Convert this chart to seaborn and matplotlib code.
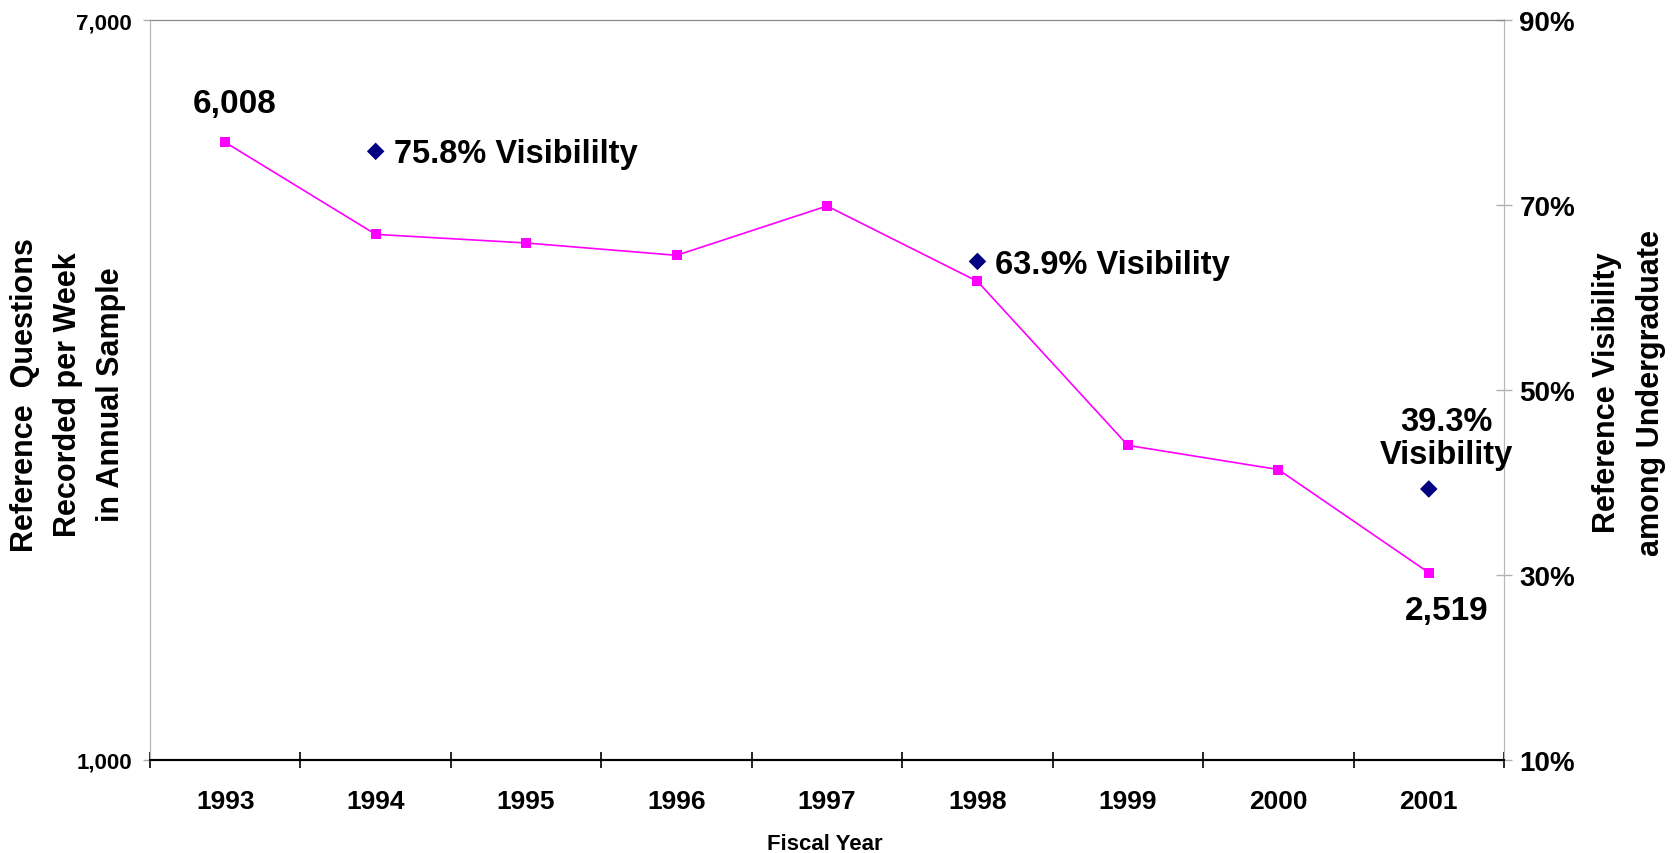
import numpy as np
import pandas as pd
import matplotlib
matplotlib.use('Agg')
import matplotlib.pyplot as plt
import seaborn as sns

# data
years = ['1993', '1994', '1995', '1996', '1997', '1998', '1999', '2000', '2001']
questions = [6008, 5262, 5192, 5092, 5492, 4881, 3551, 3355, 2519]

vis_years = ['1994', '1998', '2001']
visibility = [0.758, 0.639, 0.393]
vis_text = ['75.8% Visibililty', '63.9% Visibility', '39.3%\nVisibility']

left_ticks = [1000, 7000]
right_ticks = [0.10, 0.30, 0.50, 0.70, 0.90]

sns.set_style('white')
plt.rcParams['font.family'] = ['Liberation Sans', 'DejaVu Sans']
plt.rcParams['font.weight'] = 'bold'
plt.rcParams['text.color'] = 'black'

df = pd.DataFrame({'pos': np.arange(len(years)), 'questions': questions})
vis_df = pd.DataFrame({
    'pos': [years.index(y) for y in vis_years],
    'visibility': visibility,
})

fig = plt.figure(figsize=(16.74, 8.54), dpi=100)
ax = fig.add_axes([150 / 1674, 1 - 761 / 854, 1354 / 1674, 740 / 854])
ax2 = ax.twinx()

sns.lineplot(
    data=df, x='pos', y='questions', ax=ax,
    color='#FF00FF', linewidth=1.2,
    marker='s', markersize=7, markeredgecolor='#FF00FF', markeredgewidth=0
)
sns.scatterplot(
    data=vis_df, x='pos', y='visibility', ax=ax2,
    marker='D', s=80, color='#000080', edgecolor='none', zorder=5
)

# left axis
ax.set_xlim(-0.5, len(years) - 0.5)
ax.set_ylim(1000, 7000)
ax.set_yticks(left_ticks)
ax.set_yticklabels([f'{v:,}' for v in left_ticks])
ax.tick_params(axis='y', length=5, width=1, color='#b0b0b0', pad=8,
               labelsize=16, labelcolor='black', left=True)

# category boundaries as ticks, year names between them
ax.set_xticks(np.arange(len(years) + 1) - 0.5)
ax.set_xticklabels([])
ax.set_xticks(np.arange(len(years)), minor=True)
ax.set_xticklabels(years, minor=True)
ax.tick_params(axis='x', which='major', direction='inout', length=12,
               width=1.2, color='black', bottom=True)
ax.tick_params(axis='x', which='minor', length=0, pad=21, labelsize=19,
               labelcolor='black')
ax.set_xlabel('')
ax.set_ylabel('')

# right axis
ax2.set_ylim(0.10, 0.90)
ax2.set_yticks(right_ticks)
ax2.set_yticklabels([f'{v:.0%}' for v in right_ticks])
ax2.tick_params(axis='y', direction='inout', length=12, width=1,
                color='#b0b0b0', pad=5, labelsize=20, labelcolor='black',
                right=True)
ax2.set_ylabel('')

for a in (ax, ax2):
    a.spines['top'].set_color('#888888')
    a.spines['left'].set_color('#b8b8b8')
    a.spines['right'].set_color('#b8b8b8')
    a.spines['bottom'].set_color('black')
    a.spines['bottom'].set_linewidth(1.5)
    a.grid(False)

# value labels
ax.annotate(f'{questions[0]:,}', xy=(df.pos.iloc[0], questions[0]),
            xytext=(7, 28), textcoords='offset points',
            ha='center', va='center', fontsize=24, fontweight='bold')
ax.annotate(f'{questions[-1]:,}', xy=(df.pos.iloc[-1], questions[-1]),
            xytext=(13, -27), textcoords='offset points',
            ha='center', va='center', fontsize=24, fontweight='bold')

for p, v, t in zip(vis_df.pos, visibility, vis_text):
    if '\n' in t:
        ax2.annotate(t, xy=(p, v), xytext=(13, 14), textcoords='offset points',
                     ha='center', va='bottom', multialignment='center',
                     fontsize=23.5, fontweight='bold', linespacing=1.05)
    else:
        ax2.annotate(t, xy=(p, v), xytext=(13, -8), textcoords='offset points',
                     ha='left', va='baseline', fontsize=23.5, fontweight='bold')

fig.text(68 / 1674, 1 - 395 / 854,
         'Reference  Questions\nRecorded per Week\nin Annual Sample',
         rotation=90, ha='center', va='center', multialignment='center',
         fontsize=22, fontweight='bold', linespacing=1.57)
fig.text(1629 / 1674, 1 - 393 / 854,
         'Reference Visibility\namong Undergraduate',
         rotation=90, ha='center', va='center', multialignment='center',
         fontsize=22, fontweight='bold', linespacing=1.57)
fig.text(825 / 1674, 1 - 845 / 854, 'Fiscal Year',
         ha='center', va='center', fontsize=16, fontweight='bold')

fig.savefig('out.png', dpi=100)
